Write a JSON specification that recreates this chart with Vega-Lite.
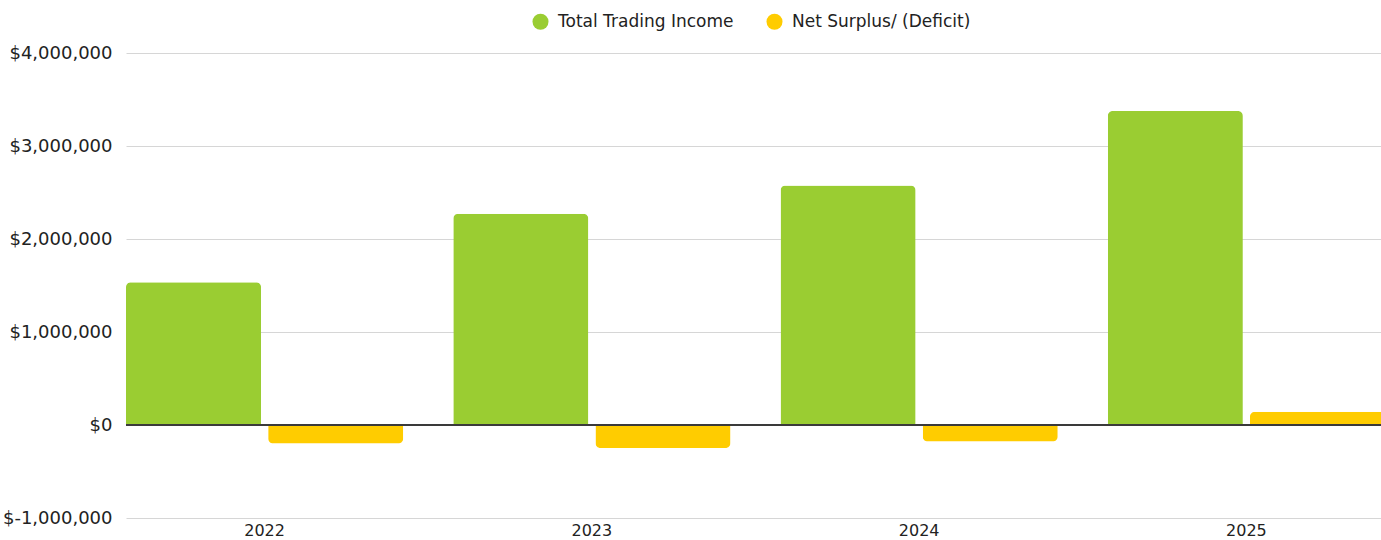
{
  "$schema": "https://vega.github.io/schema/vega-lite/v6.json",
  "autosize": "none",
  "width": 1259,
  "height": 465,
  "padding": {"left": 126, "top": 53, "right": 0, "bottom": 22},
  "background": "white",
  "config": {
    "view": {"stroke": null},
    "font": "DejaVu Sans",
    "axis": {"labelColor": "#222222", "labelFont": "DejaVu Sans", "labelFontSize": 16},
    "legend": {"labelFont": "DejaVu Sans", "labelFontSize": 17, "labelColor": "#222222", "labelLimit": 400}
  },
  "data": {
    "values": [
      {"year": "2022", "series": "Total Trading Income", "value": 1535000},
      {"year": "2022", "series": "Net Surplus/ (Deficit)", "value": -198000},
      {"year": "2023", "series": "Total Trading Income", "value": 2272000},
      {"year": "2023", "series": "Net Surplus/ (Deficit)", "value": -248000},
      {"year": "2024", "series": "Total Trading Income", "value": 2576000},
      {"year": "2024", "series": "Net Surplus/ (Deficit)", "value": -177000},
      {"year": "2025", "series": "Total Trading Income", "value": 3376000},
      {"year": "2025", "series": "Net Surplus/ (Deficit)", "value": 143000}
    ]
  },
  "encoding": {
    "x": {
      "field": "year", "type": "nominal", "title": null,
      "scale": {"paddingInner": 0.153, "paddingOuter": 0, "align": 0},
      "axis": {"labelAngle": 0, "domain": false, "ticks": false, "labelPadding": 4, "labelBaseline": "top"}
    },
    "xOffset": {
      "field": "series", "type": "nominal",
      "scale": {"domain": ["Total Trading Income", "Net Surplus/ (Deficit)"], "paddingInner": 0.05, "paddingOuter": 0}
    },
    "y": {
      "field": "value", "type": "quantitative", "title": null,
      "scale": {"domain": [-1000000, 4000000], "nice": false},
      "axis": {
        "values": [-1000000, 0, 1000000, 2000000, 3000000, 4000000],
        "labelExpr": "'$' + replace(format(datum.value, ','), '\u2212', '-')",
        "domain": false, "ticks": false, "labelPadding": 14,
        "gridColor": "#d6d6d6", "gridWidth": 1, "labelFontSize": 18
      }
    },
    "color": {
      "field": "series", "type": "nominal",
      "scale": {"domain": ["Total Trading Income", "Net Surplus/ (Deficit)"], "range": ["#9ACD32", "#FFCC00"]},
      "legend": {
        "title": null, "orient": "none", "direction": "horizontal",
        "legendX": 406, "legendY": -40,
        "symbolType": "circle", "symbolSize": 256, "symbolStrokeWidth": 0,
        "labelOffset": 9, "columnPadding": 32, "labelLimit": 400
      }
    }
  },
  "layer": [
    {
      "transform": [{"filter": "datum.value >= 0"}],
      "mark": {"type": "bar", "cornerRadiusTopLeft": 5, "cornerRadiusTopRight": 5}
    },
    {
      "transform": [{"filter": "datum.value < 0"}],
      "mark": {"type": "bar", "cornerRadiusBottomLeft": 5, "cornerRadiusBottomRight": 5}
    },
    {
      "mark": {"type": "rule", "color": "#3a3a3a", "strokeWidth": 2},
      "encoding": {"y": {"datum": 0, "type": "quantitative"}, "x": null, "xOffset": null, "color": null}
    }
  ]
}
